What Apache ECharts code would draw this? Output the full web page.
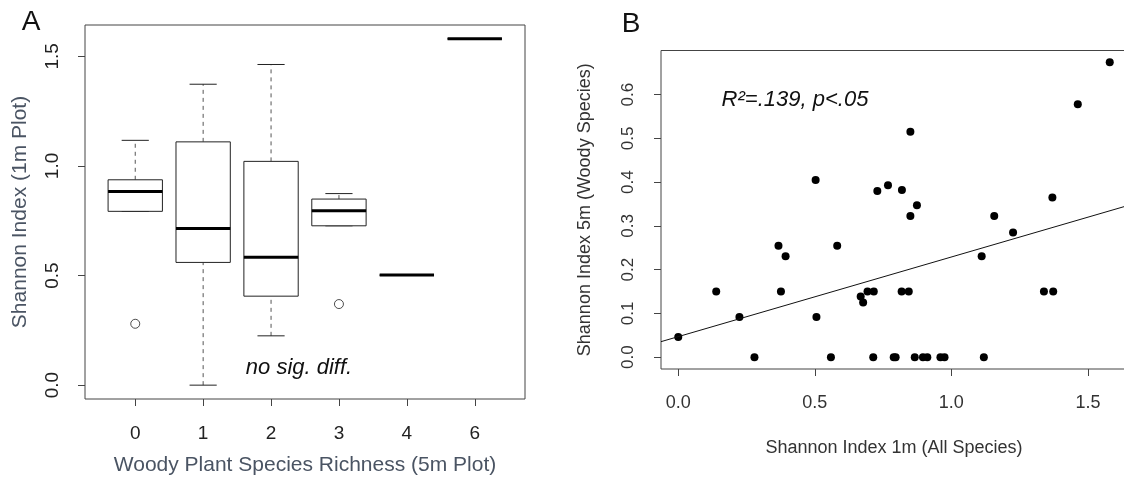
<!DOCTYPE html>
<html>
<head>
<meta charset="utf-8">
<script src="https://cdn.jsdelivr.net/npm/echarts@6/dist/echarts.min.js"></script>
<style>
  html, body { margin: 0; padding: 0; background: #fff; }
  #chart { width: 1124px; height: 483px; }
</style>
</head>
<body>
<div id="chart"></div>
<script>
// Panel A: box plot stats per richness class
const richness = ['0', '1', '2', '3', '4', '6'];
const lowerWhisker  = [0.793, 0.000, 0.225, 0.727, 0.502, 1.580];
const lowerQuartile = [0.793, 0.560, 0.406, 0.727, 0.502, 1.580];
const medians       = [0.883, 0.715, 0.584, 0.796, 0.502, 1.580];
const upperQuartile = [0.937, 1.110, 1.021, 0.849, 0.502, 1.580];
const upperWhisker  = [1.117, 1.373, 1.463, 0.874, 0.502, 1.580];
const outlierGroup  = [0, 3];
const outlierValue  = [0.280, 0.370];
const ticksA = [0, 0.5, 1.0, 1.5];

// Panel B: scatter
const shannon1m = [0.000, 0.139, 0.224, 0.279, 0.367, 0.376, 0.393, 0.503, 0.506, 0.559,
  0.582, 0.668, 0.677, 0.693, 0.716, 0.714, 0.729, 0.768, 0.789, 0.796,
  0.818, 0.819, 0.844, 0.850, 0.850, 0.866, 0.874, 0.896, 0.912, 0.960,
  0.975, 1.111, 1.119, 1.157, 1.226, 1.339, 1.370, 1.373, 1.463, 1.580];
const shannon5m = [0.046, 0.150, 0.092, 0.000, 0.255, 0.150, 0.231, 0.405, 0.092, 0.000,
  0.255, 0.139, 0.125, 0.150, 0.150, 0.000, 0.380, 0.393, 0.000, 0.000,
  0.150, 0.382, 0.150, 0.515, 0.323, 0.000, 0.347, 0.000, 0.000, 0.000,
  0.000, 0.231, 0.000, 0.323, 0.285, 0.150, 0.365, 0.150, 0.578, 0.674];
const fitIntercept = 0.047;
const fitSlope = 0.182;
const ticksBx = [0, 0.5, 1.0, 1.5];
const ticksBy = [0, 0.1, 0.2, 0.3, 0.4, 0.5, 0.6];

const FONT = 'Liberation Sans, Arial, sans-serif';
const frameColor = '#444';
const slate = '#4a5463';

const chart = echarts.init(document.getElementById('chart'));

// R style: axis range = data range padded 4%
function pad(lo, hi) { const d = (hi - lo) * 0.04; return [lo - d, hi + d]; }
const yRangeA = pad(0, 1.58);
const xRangeB = pad(0, 1.58);
const yRangeB = pad(0, 0.674);

const boxData = richness.map((r, i) => [i + 1, lowerWhisker[i], lowerQuartile[i], medians[i], upperQuartile[i], upperWhisker[i]]);
const outlierData = outlierGroup.map((g, i) => [g + 1, outlierValue[i]]);
const scatterData = shannon1m.map((x, i) => [x, shannon5m[i]]);
const fitLine = xRangeB.map(x => [x, fitIntercept + fitSlope * x]);

function renderBox(params, api) {
  const x = api.value(0);
  const lo = api.coord([x, api.value(1)]);
  const q1 = api.coord([x, api.value(2)]);
  const md = api.coord([x, api.value(3)]);
  const q3 = api.coord([x, api.value(4)]);
  const hi = api.coord([x, api.value(5)]);
  const unit = api.size([1, 0])[0];
  const half = unit * 0.4, cap = unit * 0.2;
  const cx = md[0];
  const dash = { stroke: '#555', lineWidth: 1, lineDash: [4, 4] };
  const solid = { stroke: '#222', lineWidth: 1 };
  return {
    type: 'group',
    children: [
      { type: 'line', shape: { x1: cx, y1: q3[1], x2: cx, y2: hi[1] }, style: dash },
      { type: 'line', shape: { x1: cx, y1: lo[1], x2: cx, y2: q1[1] }, style: dash },
      { type: 'line', shape: { x1: cx - cap, y1: hi[1], x2: cx + cap, y2: hi[1] }, style: solid },
      { type: 'line', shape: { x1: cx - cap, y1: lo[1], x2: cx + cap, y2: lo[1] }, style: solid },
      { type: 'rect', shape: { x: cx - half, y: q3[1], width: half * 2, height: q1[1] - q3[1] },
        style: { fill: '#fff', stroke: '#222', lineWidth: 1 } },
      { type: 'line', shape: { x1: cx - half, y1: md[1], x2: cx + half, y2: md[1] },
        style: { stroke: '#000', lineWidth: 3 } }
    ]
  };
}

const tickStyle = { show: true, length: 7, inside: false, lineStyle: { color: frameColor } };
const hiddenLine = { show: false, onZero: false };

chart.setOption({
  animation: false,
  textStyle: { fontFamily: FONT },
  grid: [
    { left: 85, top: 25, width: 440, height: 374, show: true, borderColor: frameColor, borderWidth: 1, outerBoundsMode: 'none' },
    { left: 661, top: 50.5, width: 466, height: 318.5, show: true, borderColor: frameColor, borderWidth: 1, outerBoundsMode: 'none' }
  ],
  xAxis: [
    {
      gridIndex: 0, type: 'value', min: 0.26, max: 6.74, position: 'bottom',
      axisLine: hiddenLine, splitLine: { show: false },
      axisTick: Object.assign({ customValues: richness.map((r, i) => i + 1) }, tickStyle),
      axisLabel: { customValues: richness.map((r, i) => i + 1), formatter: v => richness[Math.round(v) - 1],
        fontSize: 19, color: '#222', margin: 25, fontFamily: FONT },
      name: 'Woody Plant Species Richness (5m Plot)', nameLocation: 'middle', nameGap: 56,
      nameTextStyle: { fontSize: 21, color: slate, fontFamily: FONT }
    },
    {
      gridIndex: 1, type: 'value', min: xRangeB[0], max: xRangeB[1], position: 'bottom',
      axisLine: hiddenLine, splitLine: { show: false },
      axisTick: Object.assign({ customValues: ticksBx }, tickStyle),
      axisLabel: { customValues: ticksBx, formatter: v => v.toFixed(1),
        fontSize: 18, color: '#333', margin: 25, fontFamily: FONT },
      name: 'Shannon Index 1m (All Species)', nameLocation: 'middle', nameGap: 70,
      nameTextStyle: { fontSize: 18, color: '#333', fontFamily: FONT }
    }
  ],
  yAxis: [
    {
      gridIndex: 0, type: 'value', min: yRangeA[0], max: yRangeA[1], position: 'left',
      axisLine: hiddenLine, splitLine: { show: false },
      axisTick: Object.assign({ customValues: ticksA }, tickStyle),
      axisLabel: { customValues: ticksA, formatter: v => v.toFixed(1), rotate: 90,
        fontSize: 19, color: '#222', margin: 23, fontFamily: FONT },
      name: 'Shannon Index (1m Plot)', nameLocation: 'middle', nameGap: 54, nameRotate: 90,
      nameTextStyle: { fontSize: 21, color: slate, fontFamily: FONT }
    },
    {
      gridIndex: 1, type: 'value', min: yRangeB[0], max: yRangeB[1], position: 'left',
      axisLine: hiddenLine, splitLine: { show: false },
      axisTick: Object.assign({ customValues: ticksBy }, tickStyle),
      axisLabel: { customValues: ticksBy, formatter: v => v.toFixed(1), rotate: 90,
        fontSize: 17, color: '#333', margin: 24, fontFamily: FONT },
      name: 'Shannon Index 5m (Woody Species)', nameLocation: 'middle', nameGap: 67, nameRotate: 90,
      nameTextStyle: { fontSize: 18, color: '#333', fontFamily: FONT }
    }
  ],
  series: [
    {
      type: 'custom', xAxisIndex: 0, yAxisIndex: 0,
      renderItem: renderBox, data: boxData, clip: true
    },
    {
      type: 'scatter', xAxisIndex: 0, yAxisIndex: 0,
      symbol: 'circle', symbolSize: 9, data: outlierData,
      itemStyle: { color: '#fff', borderColor: '#222', borderWidth: 1 }
    },
    {
      type: 'line', xAxisIndex: 1, yAxisIndex: 1, data: fitLine,
      symbol: 'none', lineStyle: { color: '#111', width: 1 }, clip: true
    },
    {
      type: 'scatter', xAxisIndex: 1, yAxisIndex: 1, data: scatterData,
      symbol: 'circle', symbolSize: 8, itemStyle: { color: '#000', opacity: 1 }
    }
  ],
  graphic: [
    { type: 'text', x: 31, y: 22, style: { text: 'A', font: '28px ' + FONT, fill: '#111', align: 'center', verticalAlign: 'middle' } },
    { type: 'text', x: 631, y: 24, style: { text: 'B', font: '28px ' + FONT, fill: '#111', align: 'center', verticalAlign: 'middle' } },
    { type: 'text', x: 299, y: 368, style: { text: 'no sig. diff.', font: 'italic 22px ' + FONT, fill: '#111', align: 'center', verticalAlign: 'middle' } },
    { type: 'text', x: 795, y: 100, style: { text: 'R²=.139, p<.05', font: 'italic 22px ' + FONT, fill: '#111', align: 'center', verticalAlign: 'middle' } }
  ]
});
</script>
</body>
</html>
